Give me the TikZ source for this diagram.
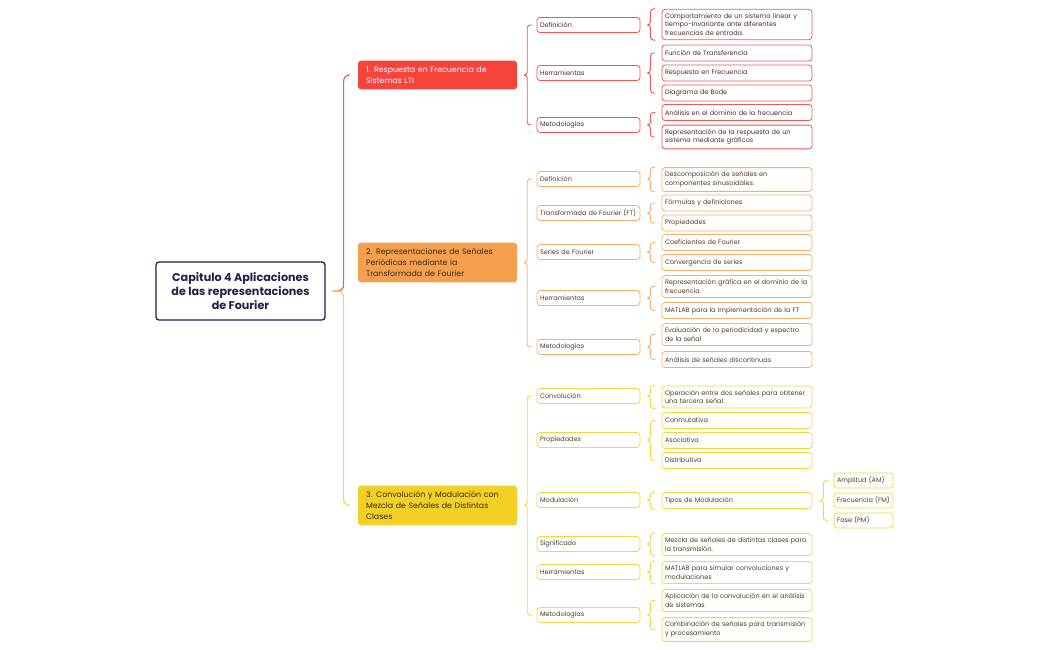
\documentclass[tikz,border=0pt]{standalone}
\usepackage{fontspec}
\setmainfont{Poppins}
\usetikzlibrary{calc}

\definecolor{navy}{RGB}{28,36,72}
\definecolor{redT}{RGB}{245,68,60}
\definecolor{redB}{RGB}{240,88,88}
\definecolor{redX}{RGB}{80,42,42}
\definecolor{oraT}{RGB}{245,160,78}
\definecolor{oraB}{RGB}{246,176,110}
\definecolor{oraX}{RGB}{85,58,38}
\definecolor{yelT}{RGB}{242,208,38}
\definecolor{yelB}{RGB}{245,215,70}
\definecolor{yelX}{RGB}{75,64,28}

% one half of a curly connector: parent, end point, tip offset, stem offset
\newcommand{\mmhalf}[5][]{\draw[brace,#1] let \p1=(#2.east), \p2=(#3) in (\x1+#4,\y1) -- (\x1+#5,\y1) -- (\x1+#5,\y2) -- (\x1+#5+5,\y2);}
\newcommand{\mmbrace}[6][]{\mmhalf[#1]{#2}{#3}{#5}{#6}\mmhalf[#1]{#2}{#4}{#5}{#6}}

\begin{document}
\begin{tikzpicture}[x=1pt,y=-1pt]
\tikzstyle{brace}=[line width=0.9pt, rounded corners=3pt]
\tikzstyle{root}=[rectangle,draw=navy,line width=1.3pt,rounded corners=3pt,fill=white,text=navy,minimum width=169pt,minimum height=58pt,align=center,font=\fontsize{11.2}{14}\selectfont\bfseries]
\tikzstyle{topic}=[rectangle,rounded corners=3pt,text width=143pt,inner xsep=8pt,inner ysep=5.8pt,align=left,font=\fontsize{7.85}{11}\selectfont]
\tikzstyle{sub}=[rectangle,draw,line width=0.8pt,rounded corners=3pt,fill=white,text width=97pt,inner xsep=3pt,minimum height=15pt,align=left,font=\fontsize{6.5}{8.5}\selectfont]
\tikzstyle{leaf}=[sub,text width=144pt,inner ysep=4.2pt,minimum height=16pt]
\tikzstyle{mini}=[sub,text width=53pt,minimum height=15pt]
\useasboundingbox (0,0) rectangle (1050,650);

\node[root] (R_0) at (240.5,291) {Capitulo 4 Aplicaciones\\de las representaciones\\de Fourier};
\node[topic,fill=redT,text=white] (T_1) at (437.5,75) {1. Respuesta en Frecuencia de\\Sistemas LTI};
\node[topic,fill=oraT,text=oraX!70!black] (T_2) at (437.5,262.5) {2. Representaciones de Señales\\Periódicas mediante la\\Transformada de Fourier};
\node[topic,fill=yelT,text=yelX!70!black] (T_3) at (437.5,505.5) {3. Convolución y Modulación con\\Mezcla de Señales de Distintas\\Clases};

% rama 1
\begin{scope}[every node/.append style={draw=redB,text=redX}]
\node[sub] (S_11) at (588.5,25) {Definición};
\node[sub] (S_12) at (588.5,73) {Herramientas};
\node[sub] (S_13) at (588.5,125) {Metodologías};
\node[leaf] (L_111) at (737,24.5) {Comportamiento de un sistema linear y\\tiempo-invariante ante diferentes\\frecuencias de entrada.};
\node[leaf] (L_121) at (737,53) {Función de Transferencia};
\node[leaf] (L_122) at (737,73) {Respuesta en Frecuencia};
\node[leaf] (L_123) at (737,93) {Diagrama de Bode};
\node[leaf] (L_131) at (737,112.5) {Análisis en el dominio de la frecuencia};
\node[leaf] (L_132) at (737,137) {Representación de la respuesta de un\\sistema mediante gráficos};
\end{scope}

% rama 2
\begin{scope}[every node/.append style={draw=oraB,text=oraX}]
\node[sub] (S_21) at (588.5,179) {Definición};
\node[sub] (S_22) at (588.5,213) {Transformada de Fourier (FT)};
\node[sub] (S_23) at (588.5,252) {Series de Fourier};
\node[sub] (S_24) at (588.5,298) {Herramientas};
\node[sub] (S_25) at (588.5,347) {Metodologías};
\node[leaf] (L_211) at (737,179.5) {Descomposición de señales en\\componentes sinusoidales.};
\node[leaf] (L_221) at (737,203) {Fórmulas y definiciones};
\node[leaf] (L_222) at (737,223) {Propiedades};
\node[leaf] (L_231) at (737,242.5) {Coeficientes de Fourier};
\node[leaf] (L_232) at (737,262.5) {Convergencia de series};
\node[leaf] (L_241) at (737,286.5) {Representación gráfica en el dominio de la\\frecuencia};
\node[leaf] (L_242) at (737,310.5) {MATLAB para la implementación de la FT};
\node[leaf] (L_251) at (737,334.5) {Evaluación de la periodicidad y espectro\\de la señal};
\node[leaf] (L_252) at (737,359.5) {Análisis de señales discontinuas};
\end{scope}

% rama 3
\begin{scope}[every node/.append style={draw=yelB,text=yelX}]
\node[sub] (S_31) at (588.5,396) {Convolución};
\node[sub] (S_32) at (588.5,440) {Propiedades};
\node[sub] (S_33) at (588.5,500) {Modulación};
\node[sub] (S_34) at (588.5,544) {Significado};
\node[sub] (S_35) at (588.5,572) {Herramientas};
\node[sub] (S_36) at (588.5,615) {Metodologías};
\node[leaf] (L_311) at (737,397) {Operación entre dos señales para obtener\\una tercera señal.};
\node[leaf] (L_321) at (737,420.5) {Conmutativa};
\node[leaf] (L_322) at (737,440.5) {Asociativa};
\node[leaf] (L_323) at (737,460.5) {Distributiva};
\node[leaf] (L_331) at (737,500.5) {Tipos de Modulación};
\node[leaf] (L_341) at (737,544.5) {Mezcla de señales de distintas clases para\\la transmisión.};
\node[leaf] (L_351) at (737,572.5) {MATLAB para simular convoluciones y\\modulaciones};
\node[leaf] (L_361) at (737,600.5) {Aplicación de la convolución en el análisis\\de sistemas};
\node[leaf] (L_362) at (737,629.5) {Combinación de señales para transmisión\\y procesamiento};
\node[mini] (M_1) at (863.5,480.5) {Amplitud (AM)};
\node[mini] (M_2) at (863.5,500.5) {Frecuencia (FM)};
\node[mini] (M_3) at (863.5,520.5) {Fase (PM)};
\end{scope}

% conectores
\mmhalf[draw=redB,line width=1.1pt,rounded corners=6pt]{R_0}{T_1.west}{7}{18}
\mmhalf[draw=yelB,line width=1.1pt,rounded corners=6pt]{R_0}{T_3.west}{7}{18}

\mmbrace[draw=redB]{T_1}{S_11.west}{S_13.west}{7}{10}
\mmbrace[draw=redB]{S_11}{L_111.north}{L_111.south}{7}{10}
\mmbrace[draw=redB]{S_12}{L_121.west}{L_123.west}{7}{10}
\mmbrace[draw=redB]{S_13}{L_131.west}{L_132.west}{7}{10}

\mmbrace[draw=oraB]{T_2}{S_21.west}{S_25.west}{7}{10}
\mmbrace[draw=oraB]{S_21}{L_211.north}{L_211.south}{7}{10}
\mmbrace[draw=oraB]{S_22}{L_221.west}{L_222.west}{7}{10}
\mmbrace[draw=oraB]{S_23}{L_231.west}{L_232.west}{7}{10}
\mmbrace[draw=oraB]{S_24}{L_241.west}{L_242.west}{7}{10}
\mmbrace[draw=oraB]{S_25}{L_251.west}{L_252.west}{7}{10}

\mmbrace[draw=yelB]{T_3}{S_31.west}{S_36.west}{7}{10}
\mmbrace[draw=yelB]{S_31}{L_311.north}{L_311.south}{7}{10}
\mmbrace[draw=yelB]{S_32}{L_321.west}{L_323.west}{7}{10}
\mmbrace[draw=yelB]{S_33}{L_331.north}{L_331.south}{7}{10}
\mmbrace[draw=yelB]{L_331}{M_1.west}{M_3.west}{9}{11}
\mmbrace[draw=yelB]{S_34}{L_341.north}{L_341.south}{7}{10}
\mmbrace[draw=yelB]{S_35}{L_351.north}{L_351.south}{7}{10}
\mmbrace[draw=yelB]{S_36}{L_361.west}{L_362.west}{7}{10}
\end{tikzpicture}
\end{document}
